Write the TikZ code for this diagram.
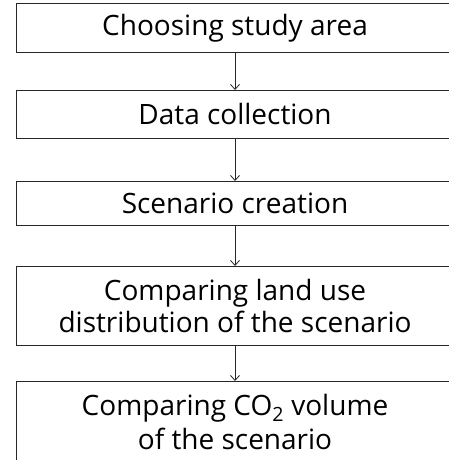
\documentclass[tikz,border=0pt]{standalone}
\usepackage{fontspec}
\setmainfont{Open Sans}
\usetikzlibrary{arrows.meta}
\tikzset{
	stepbox/.style={draw=black!85, line width=1pt, inner sep=0, outer sep=0,
		minimum width=438pt, align=center,
		font=\fontsize{28}{32}\selectfont},
	flow/.style={-{Straight Barb[length=5pt,width=9pt]}, line width=0.8pt, black!85}
}

\begin{document}
\begin{tikzpicture}[x=1pt, y=-1pt]
			\useasboundingbox (0,0) rectangle (449,460);
			\clip (0,0) rectangle (449,460);
			\node[stepbox, minimum height=49pt] (area) at (235, 28.5) {Choosing study area};
			\node[stepbox, minimum height=48pt] (data) at (235, 114) {Data collection};
			\node[stepbox, minimum height=44pt] (scen) at (235, 203) {Scenario creation};
			\node[stepbox, minimum height=79pt] (land) at (235, 305.5) {Comparing land use\\ distribution of the scenario};
			\node[stepbox, minimum height=82pt] (co2) at (235, 422) {Comparing CO\textsubscript{2} volume\\[2pt] of the scenario};
			\path[flow] (area) edge (data);
			\path[flow] (data) edge (scen);
			\path[flow] (scen) edge (land);
			\path[flow] (land) edge (co2);
		\end{tikzpicture}
\end{document}
